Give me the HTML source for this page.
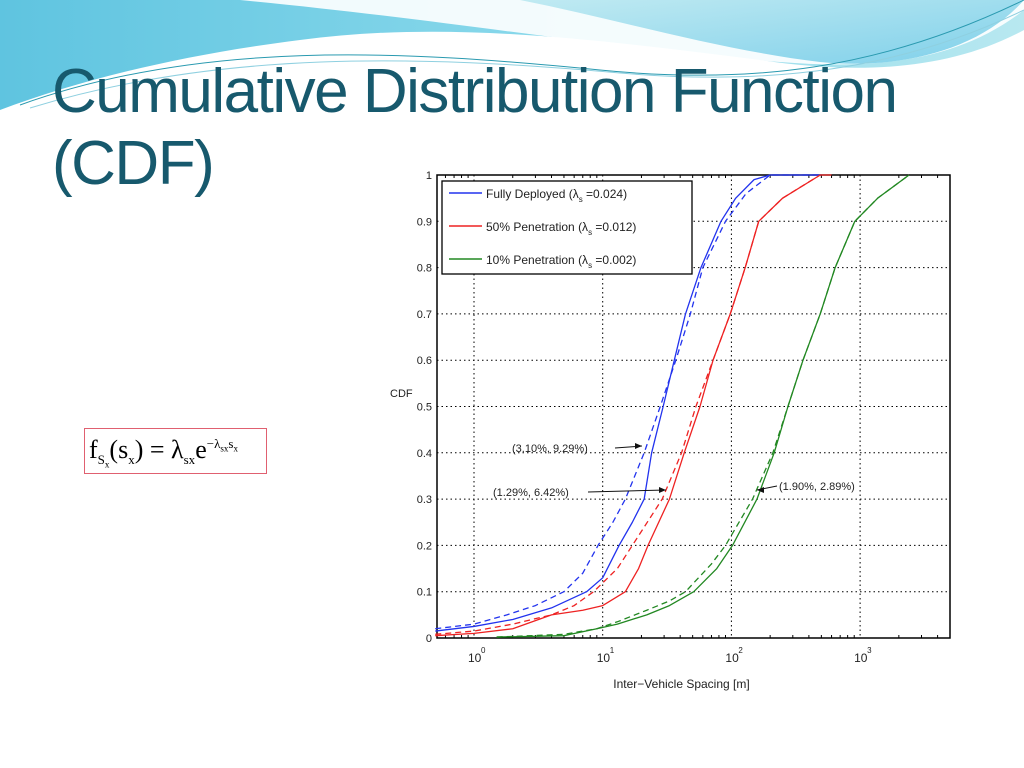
<!DOCTYPE html>
<html><head><meta charset="utf-8"><style>
body{margin:0;width:1024px;height:768px;overflow:hidden;background:#fff;position:relative;font-family:"Liberation Sans",sans-serif}
.title{position:absolute;left:52px;top:56px;font-size:62px;line-height:72px;color:#17596d;font-family:"Liberation Sans",sans-serif;letter-spacing:-1.5px;margin:0;font-weight:normal}
.formula{position:absolute;left:84px;top:428px;width:183px;height:46px;border:1.5px solid #e06070;font-family:"Liberation Serif",serif;font-size:26px;box-sizing:border-box;padding:6px 0 0 4px;white-space:nowrap}
.formula sub,.formula sup{font-size:13px}
</style></head><body>
<svg width="1024" height="130" style="position:absolute;left:0;top:0">
<defs><linearGradient id="g1" x1="0" y1="0" x2="1" y2="0"><stop offset="0" stop-color="#5fc4e0"/><stop offset="0.5" stop-color="#86d7ea"/><stop offset="1" stop-color="#b8e8f0"/></linearGradient>
<linearGradient id="g2" x1="0" y1="0" x2="1" y2="1"><stop offset="0" stop-color="#c0eaf2"/><stop offset="1" stop-color="#7fd0ea"/></linearGradient></defs>
<path d="M0 0 H1024 V30 C950 70 860 75 760 60 C600 40 450 20 300 40 C180 55 80 80 0 110 Z" fill="url(#g1)"/>
<path d="M240 0 H1024 V10 C960 60 880 70 780 62 C620 50 450 20 240 0Z" fill="#fff" opacity="0.9"/>
<path d="M520 0 H1024 V0 C980 50 900 70 820 62 C720 50 620 20 520 0Z" fill="url(#g2)"/>
<path d="M20 105 C200 40 400 50 600 70 C750 85 880 70 1024 0" stroke="#2a9ab0" stroke-width="1" fill="none"/>
<path d="M30 108 C220 50 420 55 620 73 C770 86 900 70 1024 10" stroke="#8fd0e0" stroke-width="1" fill="none"/>
</svg>
<h1 class="title">Cumulative Distribution Function<br>(CDF)</h1>
<div class="formula">f<sub>S<sub style="font-size:9px">x</sub></sub>(s<sub>x</sub>) = λ<sub>sx</sub>e<sup>−λ<sub style="font-size:9px">sx</sub>s<sub style="font-size:9px">x</sub></sup></div>
<svg id="chart" width="1024" height="768" style="position:absolute;left:0;top:0"></svg>
<script>
const yTicks=[0,0.1,0.2,0.3,0.4,0.5,0.6,0.7,0.8,0.9,1];
const yTickLabels=["0","0.1","0.2","0.3","0.4","0.5","0.6","0.7","0.8","0.9","1"];
const xDecades=[0,1,2,3];
const blueX=[0.5,1,2,4,7.5,10,13.4,17,21,24,29.5,36,44,58,83,108,150,200,500];
const blueY=[0.015,0.025,0.04,0.065,0.1,0.13,0.2,0.25,0.3,0.4,0.5,0.6,0.7,0.8,0.9,0.95,0.99,1,1];
const blueDX=[0.5,1,1.8,3,5,7,9.2,12,15,21,28,37,48,60,90,130,200,500];
const blueDY=[0.02,0.03,0.05,0.07,0.1,0.14,0.2,0.25,0.3,0.4,0.5,0.6,0.7,0.8,0.9,0.96,1,1];
const redX=[0.5,1,2,4,7,10,15,19,22.5,33,43,57,72,98,128,163,250,490,600];
const redY=[0.005,0.01,0.02,0.05,0.06,0.07,0.1,0.15,0.2,0.3,0.4,0.5,0.6,0.7,0.8,0.9,0.95,1,1];
const redDX=[0.5,1,2,4,6,8.5,13,17,29,41,53,72,98,128,163,250,490];
const redDY=[0.008,0.015,0.03,0.05,0.07,0.1,0.15,0.2,0.3,0.4,0.5,0.6,0.7,0.8,0.9,0.95,1];
const greenX=[1.5,5,9,13,22,33,51,77,102,158,215,275,360,490,640,910,1370,2400];
const greenY=[0.002,0.005,0.02,0.03,0.05,0.07,0.1,0.15,0.2,0.3,0.4,0.5,0.6,0.7,0.8,0.9,0.95,1];
const greenDX=[1.5,5,9,13,22,33,44,70,90,146,210,275,360,490,640,910,1370,2400];
const greenDY=[0.002,0.008,0.02,0.035,0.06,0.08,0.1,0.16,0.2,0.3,0.4,0.5,0.6,0.7,0.8,0.9,0.95,1];
const L=437,R=950,T=175,B=638,x0=474,dec=128.7;
const sx=v=>x0+Math.log10(v)*dec, sy=v=>B-v*(B-T);
const svg=document.getElementById('chart'),NS='http://www.w3.org/2000/svg';
function mk(tag,at,txt){const e=document.createElementNS(NS,tag);for(const k in at)e.setAttribute(k,at[k]);if(txt!=null)e.textContent=txt;svg.appendChild(e);return e;}
const bg=mk('rect',{x:380,y:155,width:590,height:555,fill:'#fff'});


yTicks.forEach((v,i)=>{
 const g=mk('line',{x1:L,x2:R,y1:sy(v),y2:sy(v),stroke:'#000','stroke-width':1,'stroke-dasharray':'1.5,3'});
 
 
 const t=mk('text',{x:L-5,y:sy(v)+4,'text-anchor':'end','font-size':11,fill:'#222'},yTickLabels[i]);
 
 
});
xDecades.forEach(d=>{
 const x=sx(Math.pow(10,d));
 const g=mk('line',{x1:x,x2:x,y1:T,y2:B,stroke:'#000','stroke-width':1,'stroke-dasharray':'1.5,3'});
 
 
 const t=mk('text',{x:x-6,y:B+24,'font-size':12,fill:'#222'},'10');
 
 
 const s=mk('text',{x:x+7,y:B+15,'font-size':8,fill:'#222'},String(d));
 
 
});
for(let d=-1;d<=3;d++)for(let m=2;m<=9;m++){const v=m*Math.pow(10,d);const x=sx(v);if(x<L||x>R)continue;
 const a=mk('line',{x1:x,x2:x,y1:B,y2:B-3,stroke:'#000'});
 const b=mk('line',{x1:x,x2:x,y1:T,y2:T+3,stroke:'#000'});}
const fr=mk('rect',{x:L,y:T,width:R-L,height:B-T,fill:'none',stroke:'#000','stroke-width':1.5});


function line(xs,ys,col,dash,name){const p=mk('polyline',{points:xs.map((v,i)=>sx(v)+','+sy(ys[i])).join(' '),fill:'none',stroke:col,'stroke-width':1.3,'stroke-dasharray':dash||'none','stroke-linejoin':'round'});
 
 }
line(blueX,blueY,'#2233ee',null,'series-fully-deployed');
line(blueDX,blueDY,'#2233ee','6,4','series-fully-deployed-theory');
line(redX,redY,'#ee2222',null,'series-50-penetration');
line(redDX,redDY,'#ee2222','6,4','series-50-penetration-theory');
line(greenX,greenY,'#228822',null,'series-10-penetration');
line(greenDX,greenDY,'#228822','6,4','series-10-penetration-theory');
const lg=mk('rect',{x:442,y:181,width:250,height:93,fill:'#fff',stroke:'#000','stroke-width':1.3});


[['Fully Deployed (λ',' =0.024)','#2233ee',198],['50% Penetration (λ',' =0.012)','#ee2222',231],['10% Penetration (λ',' =0.002)','#228822',264]].forEach(e=>{
 const l=mk('line',{x1:449,x2:482,y1:e[3]-5,y2:e[3]-5,stroke:e[2],'stroke-width':1.5});
 
 
 const t=mk('text',{x:486,y:e[3],'font-size':12,fill:'#222'});
 
 
 t.innerHTML=e[0]+'<tspan font-size="8" dy="4">s</tspan><tspan dy="-4">'+e[1]+'</tspan>';
});
const ann=[['(3.10%, 9.29%)',512,452,615,452,642,450],['(1.29%, 6.42%)',493,496,588,496,666,494],['(1.90%, 2.89%)',779,490,null,null,757,494]];
ann.forEach(a=>{
 const t=mk('text',{x:a[1],y:a[2],'font-size':11,fill:'#222'},a[0]);
 
 
 const x1=a[3]!=null?a[3]:a[1]-2, y1=a[3]!=null?a[4]-4:a[2]-4;
 const l=mk('line',{x1:x1,y1:y1,x2:a[5],y2:a[6]-4,stroke:'#111','stroke-width':1});
 
 
 const dir=a[5]>x1?-1:1;
 const h=mk('polygon',{points:`${a[5]},${a[6]-4} ${a[5]+dir*7},${a[6]-7} ${a[5]+dir*7},${a[6]-1}`,fill:'#111'});
 
 
});
const xt=mk('text',{x:(L+R)/2-12,y:688,'text-anchor':'middle','font-size':12,fill:'#222'},'Inter−Vehicle Spacing [m]');


const yt=mk('text',{x:390,y:397,'font-size':11,fill:'#222'},'CDF');


</script>
</body></html>
